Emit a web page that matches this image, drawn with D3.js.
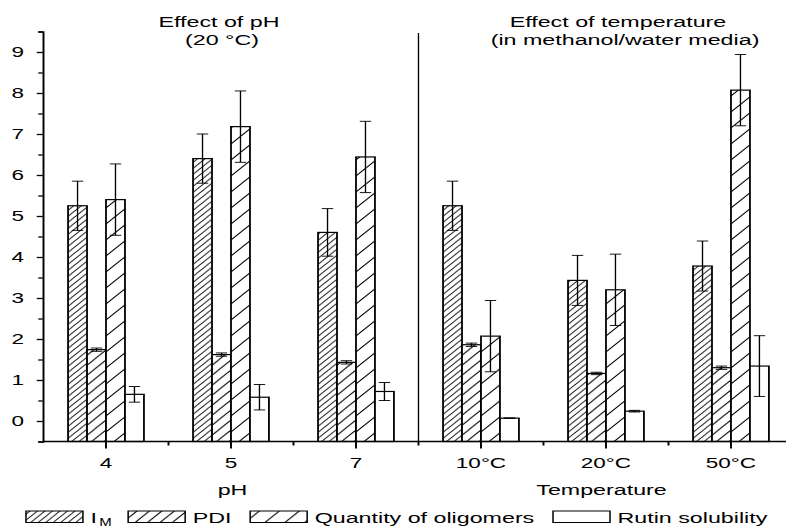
<!DOCTYPE html>
<head>
<title>Effect of pH and temperature</title>
<meta charset="utf-8">
<style>
body, html {
  padding: 0;
  margin: 0;
  border: 0;
  background: #fff;
}

.chart-svg {
  display: block;
  font-family: "Liberation Sans", Arial, sans-serif;
}

.chart-svg text {
  fill: #000;
}
</style>
<script src="https://d3js.org/d3.v7.min.js"></script>
</head>
<body>

<div class="chart-container"></div>

<script>

// values
var categories = ["4", "5", "7", "10°C", "20°C", "50°C"];
var seriesNames = ["IM", "PDI", "Quantity of oligomers", "Rutin solubility"];
var imValues     = [5.25, 6.40, 4.60, 5.25, 3.43, 3.78];
var imErrors     = [0.60, 0.60, 0.58, 0.60, 0.61, 0.61];
var pdiValues    = [1.74, 1.62, 1.43, 1.86, 1.16, 1.30];
var pdiErrors    = [0.04, 0.04, 0.04, 0.04, 0.03, 0.04];
var qtyValues    = [5.40, 7.18, 6.44, 2.07, 3.20, 8.07];
var qtyErrors    = [0.87, 0.87, 0.87, 0.87, 0.87, 0.87];
var rutinValues  = [0.65, 0.58, 0.72, 0.07, 0.24, 1.34];
var rutinErrors  = [0.19, 0.31, 0.22, 0.005, 0.02, 0.74];
var yTicks = [0, 1, 2, 3, 4, 5, 6, 7, 8, 9];
var yMinorTicks = [-0.5, 0.5, 1.5, 2.5, 3.5, 4.5, 5.5, 6.5, 7.5, 8.5, 9.5];

var seriesValues = [imValues, pdiValues, qtyValues, rutinValues];
var seriesErrors = [imErrors, pdiErrors, qtyErrors, rutinErrors];

// the original figure is stretched sideways, so draw in a narrow box and stretch it
var stretch = 1.5;
var width = 786, height = 528;
var vbWidth = width / stretch;

var svg = d3.select(".chart-container")
  .append("svg")
  .attr("class", "chart-svg")
  .attr("width", width)
  .attr("height", height)
  .attr("viewBox", "0 0 " + vbWidth + " " + height)
  .attr("preserveAspectRatio", "none");

// hatch patterns: [id, tile height, tile width]
var hatches = [["hatch-im", 6, 5], ["hatch-pdi", 10, 8.3], ["hatch-qty", 16, 13.3]];
var defs = svg.append("defs");
hatches.forEach(function(h) {
  var ph = h[1], pw = h[2];
  var p = defs.append("pattern")
    .attr("id", h[0])
    .attr("patternUnits", "userSpaceOnUse")
    .attr("width", pw)
    .attr("height", ph);
  p.append("rect").attr("width", pw).attr("height", ph).attr("fill", "#fff");
  p.append("path")
    .attr("d", "M" + (-pw / 2) + "," + (ph / 2) + "L" + (pw / 2) + "," + (-ph / 2) +
               "M0," + ph + "L" + pw + ",0" +
               "M" + (pw / 2) + "," + (ph * 1.5) + "L" + (pw * 1.5) + "," + (ph / 2))
    .attr("stroke", "#000")
    .attr("stroke-width", 0.8)
    .attr("fill", "none");
});
var fills = ["url(#hatch-im)", "url(#hatch-pdi)", "url(#hatch-qty)", "#fff"];

var x = d3.scaleBand()
  .domain(categories)
  .range([29, 29 + categories.length * 83.33])
  .padding(0);

var xInner = d3.scaleBand()
  .domain(seriesNames)
  .range([-25.3, 25.3])
  .padding(0);

var y = d3.scaleLinear()
  .domain([-0.5, 9.5])
  .range([441.5, 31.5]);

var axisX = 28.5;

// separator between the two experiments
svg.append("line")
  .attr("x1", x("10°C")).attr("x2", x("10°C"))
  .attr("y1", 33).attr("y2", y(-0.5))
  .attr("stroke", "#000").attr("stroke-width", 0.9);

// bars
var groups = svg.selectAll(".group")
  .data(categories)
  .enter().append("g")
  .attr("class", "group")
  .attr("transform", function(d) { return "translate(" + (x(d) + x.bandwidth() / 2) + ",0)"; });

seriesNames.forEach(function(name, si) {
  groups.append("rect")
    .attr("x", xInner(name))
    .attr("width", xInner.bandwidth())
    .attr("y", function(d, i) { return y(seriesValues[si][i]); })
    .attr("height", function(d, i) { return y(-0.5) - y(seriesValues[si][i]); })
    .attr("fill", fills[si])
    .attr("stroke", "#000")
    .attr("stroke-width", 1.2);
});

// error bars
var capHalf = 3.8;
seriesNames.forEach(function(name, si) {
  var cx = xInner(name) + xInner.bandwidth() / 2;
  var eb = groups.append("g").attr("stroke", "#000").attr("stroke-width", 0.9);
  eb.append("line")
    .attr("x1", cx).attr("x2", cx)
    .attr("y1", function(d, i) { return y(seriesValues[si][i] - seriesErrors[si][i]); })
    .attr("y2", function(d, i) { return y(seriesValues[si][i] + seriesErrors[si][i]); });
  [-1, 1].forEach(function(sign) {
    eb.append("line")
      .attr("x1", cx - capHalf).attr("x2", cx + capHalf)
      .attr("y1", function(d, i) { return y(seriesValues[si][i] + sign * seriesErrors[si][i]); })
      .attr("y2", function(d, i) { return y(seriesValues[si][i] + sign * seriesErrors[si][i]); });
  });
});

// y axis
var yAxis = svg.append("g")
  .attr("transform", "translate(" + axisX + ",0)")
  .call(d3.axisLeft(y).tickValues(yTicks).tickSize(4).tickSizeOuter(3).tickPadding(8.5));
yAxis.selectAll("text").attr("font-size", 15).attr("font-family", null);
yAxis.select(".domain").attr("stroke-width", 1.3);
yAxis.selectAll(".tick line").attr("stroke-width", 1.3);

var yMinor = svg.append("g")
  .attr("transform", "translate(" + axisX + ",0)")
  .call(d3.axisLeft(y).tickValues(yMinorTicks).tickSize(3).tickFormat(""));
yMinor.select(".domain").remove();
yMinor.selectAll(".tick line").attr("stroke-width", 1.3);

// x axis
var xAxis = svg.append("g")
  .attr("transform", "translate(0," + y(-0.5) + ")")
  .call(d3.axisBottom(x).tickSize(7).tickSizeOuter(0).tickPadding(8.5));
xAxis.select(".domain").attr("d", "M" + axisX + ",0H" + vbWidth).attr("stroke-width", 1.3);
xAxis.selectAll(".tick line").attr("stroke-width", 1.3);
xAxis.selectAll("text").attr("font-size", 15).attr("font-family", null);

svg.append("g")
  .selectAll("line")
  .data(categories.slice(1))
  .enter().append("line")
  .attr("x1", function(d) { return x(d); })
  .attr("x2", function(d) { return x(d); })
  .attr("y1", y(-0.5))
  .attr("y2", y(-0.5) + 4)
  .attr("stroke", "#000")
  .attr("stroke-width", 1.3);

// titles
var titles = [
  ["Effect of pH", 146, 27],
  ["(20 °C)", 148, 45],
  ["Effect of temperature", 412, 27],
  ["(in methanol/water media)", 416.7, 45],
  ["pH", 155, 495],
  ["Temperature", 401, 495]
];
svg.selectAll(".title")
  .data(titles)
  .enter().append("text")
  .attr("class", "title")
  .attr("x", function(d) { return d[1]; })
  .attr("y", function(d) { return d[2]; })
  .attr("text-anchor", "middle")
  .attr("font-size", 15.5)
  .text(function(d) { return d[0]; });

// legend
var legend = svg.append("g").attr("transform", "translate(0,511)");
var lx = 17.3;
seriesNames.forEach(function(name, si) {
  legend.append("rect")
    .attr("x", lx).attr("y", 0)
    .attr("width", 38).attr("height", 11.5)
    .attr("fill", fills[si])
    .attr("stroke", "#000")
    .attr("stroke-width", 1);
  var t = legend.append("text")
    .attr("x", lx + 43)
    .attr("y", 12)
    .attr("font-size", 15.5);
  if (name === "IM") {
    t.append("tspan").text("I");
    t.append("tspan").attr("font-size", 10).attr("dy", 3.5).attr("dx", 1.5).text("M");
  } else {
    t.text(name);
  }
  lx = lx + 43 + t.node().getComputedTextLength() + 12.5;
});

</script>
</body>
</html>
